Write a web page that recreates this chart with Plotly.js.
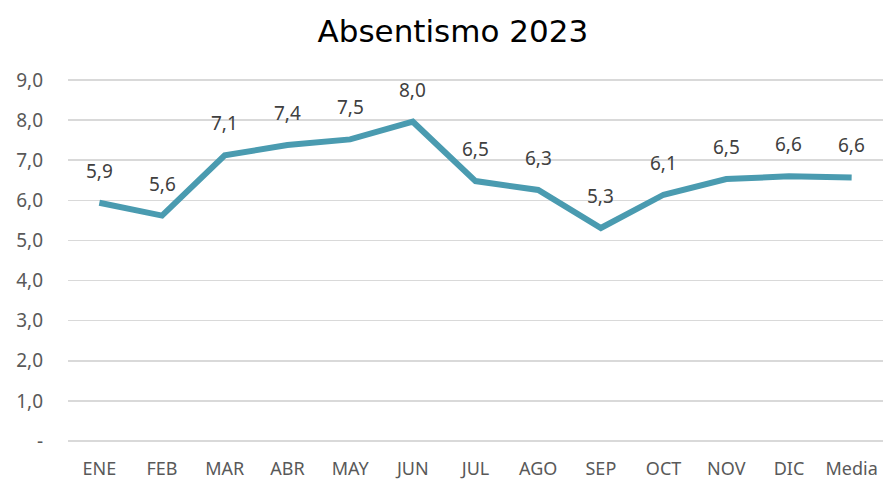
<!DOCTYPE html>
<html>
<head>
<meta charset="utf-8">
<script src="https://cdn.plot.ly/plotly-3.0.1.min.js"></script>
<style>html,body{margin:0;padding:0;background:#fff;}#chart{width:888px;height:482px;}</style>
</head>
<body>
<div id="chart"></div>
<script>
const categories = ["ENE","FEB","MAR","ABR","MAY","JUN","JUL","AGO","SEP","OCT","NOV","DIC","Media"];
const values = [5.94, 5.62, 7.12, 7.38, 7.52, 7.96, 6.48, 6.26, 5.31, 6.14, 6.53, 6.60, 6.57];
const yTickVals = [0,1,2,3,4,5,6,7,8,9];
const yTickText = ["-","1,0","2,0","3,0","4,0","5,0","6,0","7,0","8,0","9,0"];

const fmt = v => v.toFixed(1).replace('.', ',');

const trace = {
  type: 'scatter', mode: 'lines',
  x: categories, y: values,
  line: {color: '#4A9BB0', width: 6},
  hoverinfo: 'skip'
};

const annotations = categories.map((c, i) => ({
  x: c, y: values[i], xref: 'x', yref: 'y',
  text: fmt(values[i]), showarrow: false, yshift: 32,
  font: {family: 'Noto Sans, sans-serif', size: 19, color: '#404040'}
}));

const layout = {
  width: 888, height: 482,
  margin: {l: 68, r: 5, t: 78, b: 39},
  paper_bgcolor: '#fff', plot_bgcolor: '#fff',
  showlegend: false,
  title: {text: 'Absentismo 2023', x: 0.51, xanchor: 'center', y: 0.935, yanchor: 'middle',
          font: {family: 'DejaVu Sans, sans-serif', size: 31, color: '#000'}},
  xaxis: {type: 'category', range: [-0.5, 12.5], showgrid: false, zeroline: false, showline: false,
          ticks: '', tickfont: {family: 'Noto Sans, sans-serif', size: 18, color: '#595959'},
          ticklabelstandoff: 13},
  yaxis: {range: [-0.05, 9.05], tickvals: yTickVals, ticktext: yTickText, showgrid: true,
          gridcolor: '#d9d9d9', gridwidth: 1.5, zeroline: false, showline: false, ticks: '',
          tickfont: {family: 'Noto Sans, sans-serif', size: 19, color: '#595959'},
          ticklabelstandoff: 24},
  annotations: annotations
};

Plotly.newPlot('chart', [trace], layout, {displayModeBar: false, staticPlot: true});
</script>
</body>
</html>
